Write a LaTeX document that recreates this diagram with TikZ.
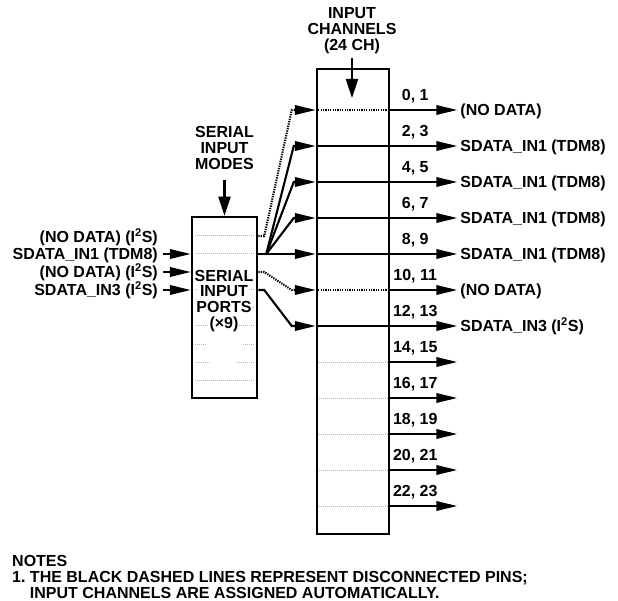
\documentclass[tikz,border=0pt]{standalone}
\usepackage{fontspec}
\setmainfont{Liberation Sans}
\usetikzlibrary{arrows.meta, positioning}
\definecolor{slotgray}{HTML}{B4B4B4}
\definecolor{pinblack}{HTML}{000000}

\begin{document}
\begin{tikzpicture}[
    x=1pt, y=-1pt,
    >={Triangle[length=21pt, width=9.5pt]},
    every node/.style={text=pinblack, inner sep=0pt,
                       font=\fontsize{16}{16}\selectfont\bfseries},
  ]

  % Page frame
  \useasboundingbox (0,0) rectangle (618,601);

  % --- Styles ---
  \tikzset{
    portbox/.style={draw=pinblack, line width=2.5pt},
    sig/.style={pinblack, line width=2.1pt},
    nopin/.style={pinblack, line width=2.1pt, dash pattern=on 1.3pt off 1.1pt},
    slot/.style={slotgray, line width=1pt, dash pattern=on 1pt off 1pt},
    lbl/.style={text height=11.5pt, text depth=0pt},
    drop/.style={-{Triangle[length=19pt, width=12pt]}, pinblack, line width=2.1pt},
  }

  % --- Boxes ---
  \node[portbox, minimum width=65pt, minimum height=181pt] (sip) at (224.5,307.5) {};
  \node[portbox, minimum width=72pt, minimum height=465pt] (ch)  at (353,301.5)   {};

  % --- Headers ---
  \node[align=center, anchor=north] (modes) at (224.5,126) {SERIAL\\INPUT\\MODES};
  \draw[drop] ([yshift=-10pt]modes.south) -- (sip.north);

  \node[align=center, anchor=north] (chead) at (352,7.5) {INPUT\\CHANNELS\\(24 CH)};
  \coordinate (chin) at (352,98);
  \draw[drop] ([yshift=-4pt]chead.south) -- (chin);

  % --- Serial port slots (gray) ---
  \foreach \y in {236,254,272,290,308,326,380}
    \draw[slot] (195,\y) -- (254,\y);
  \draw[slot] (195,344) -- (207,344);
  \draw[slot] (243,344) -- (254,344);
  \draw[slot] (195,362) -- (210,362);
  \draw[slot] (237,362) -- (254,362);

  \node[lbl, fill=white, inner xsep=1pt] (sp1) at (224,276)   {SERIAL};
  \node[lbl, fill=white, inner xsep=1pt] (sp2) at (224,291)   {INPUT};
  \node[lbl, fill=white, inner xsep=1pt] (sp3) at (224,307)   {PORTS};
  \node[lbl, fill=white, inner xsep=1pt] (sp4) at (224,322.5) {(×9)};

  % --- Source labels (left of ports) ---
  \node[lbl, anchor=east] (s1) at (158,237) {(NO DATA) (I\textsuperscript{2}S)};
  \node[lbl, anchor=east] (s2) at (158,254) {SDATA\_IN1 (TDM8)};
  \node[lbl, anchor=east] (s3) at (158,272) {(NO DATA) (I\textsuperscript{2}S)};
  \node[lbl, anchor=east] (s4) at (158,290) {SDATA\_IN3 (I\textsuperscript{2}S)};

  \draw[sig,->] ([xshift=5pt]s2.east) -- (sip.west |- s2.east);
  \draw[sig,->] ([xshift=5pt]s3.east) -- (sip.west |- s3.east);
  \draw[sig,->] ([xshift=5pt]s4.east) -- (sip.west |- s4.east);

  % --- Port and channel anchors ---
  \coordinate (p1) at (sip.east |- 0,236);
  \coordinate (p2) at (sip.east |- 0,254);
  \coordinate (p3) at (sip.east |- 0,272);
  \coordinate (p4) at (sip.east |- 0,290);

  \foreach \k in {0,...,11} {
    \pgfmathsetmacro\y{110+36*\k}
    \coordinate (i\k) at (ch.west |- 0,\y);
    \coordinate (o\k) at (ch.east |- 0,\y);
    \coordinate (e\k) at ([xshift=67pt]o\k);
  }

  % --- Channel rows inside the box ---
  \draw[nopin] (i0) -- (o0);
  \draw[sig]   (i1) -- (o1);
  \draw[sig]   (i2) -- (o2);
  \draw[sig]   (i3) -- (o3);
  \draw[sig]   (i4) -- (o4);
  \draw[nopin] (i5) -- (o5);
  \draw[sig]   (i6) -- (o6);
  \foreach \k in {7,...,11}
    \draw[slot] ([xshift=3pt]i\k) -- ([xshift=-2pt]o\k);

  % --- Ports to channels ---
  \draw[nopin,->] (p1) -- ++(6,0) -- ([xshift=-24pt]i0) -- (i0);
  \draw[sig] (p2) -- ++(8,0) coordinate (fan);
  \draw[sig,->] (fan) -- ([xshift=-22pt]i1) -- (i1);
  \draw[sig,->] (fan) -- ([xshift=-22pt]i2) -- (i2);
  \draw[sig,->] (fan) -- ([xshift=-22pt]i3) -- (i3);
  \draw[sig,->] (fan) -- (i4);
  \draw[nopin,->] (p3) -- ++(6,0) -- ([xshift=-24pt]i5) -- (i5);
  \draw[sig,->] (p4) -- ++(6,0) -- ([xshift=-24pt]i6) -- (i6);

  % --- Outputs with channel numbers ---
  \foreach \k in {0,...,11} {
    \pgfmathtruncatemacro\lo{2*\k}
    \pgfmathtruncatemacro\hi{2*\k+1}
    \draw[sig,->] (o\k) -- (e\k);
    \node[lbl, anchor=south] (n\k) at ([xshift=25pt, yshift=9pt]o\k) {\lo, \hi};
  }

  \node[lbl, right=3pt of e0] (r0) {(NO DATA)};
  \node[lbl, right=3pt of e1] (r1) {SDATA\_IN1 (TDM8)};
  \node[lbl, right=3pt of e2] (r2) {SDATA\_IN1 (TDM8)};
  \node[lbl, right=3pt of e3] (r3) {SDATA\_IN1 (TDM8)};
  \node[lbl, right=3pt of e4] (r4) {SDATA\_IN1 (TDM8)};
  \node[lbl, right=3pt of e5] (r5) {(NO DATA)};
  \node[lbl, right=3pt of e6] (r6) {SDATA\_IN3 (I\textsuperscript{2}S)};

  % --- Notes ---
  \node[align=left, anchor=north west] (notes) at (12,555)
    {NOTES\\1.\ THE BLACK DASHED LINES REPRESENT DISCONNECTED PINS;\\
     \phantom{1.\ }INPUT CHANNELS ARE ASSIGNED AUTOMATICALLY.};

\end{tikzpicture}
\end{document}
